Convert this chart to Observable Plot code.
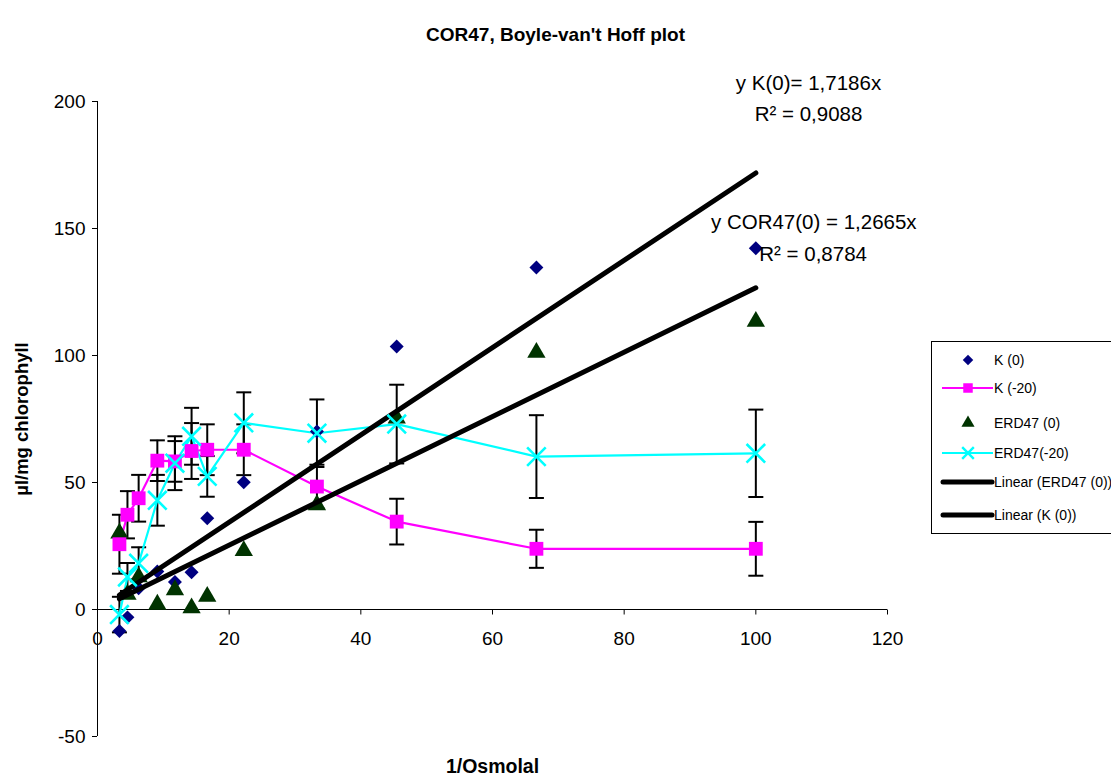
<!DOCTYPE html>
<html>
<head>
<meta charset="utf-8">
<script src="https://cdn.jsdelivr.net/npm/d3@7"></script>
<script src="https://cdn.jsdelivr.net/npm/@observablehq/plot@0.6"></script>
<style>
  html, body { margin: 0; padding: 0; background: #fff; }
  #wrap { position: relative; width: 1111px; height: 781px; overflow: hidden; font-family: "Liberation Sans", Arial, sans-serif; }
  #chart { position: absolute; left: 0; top: 0; }
  #legend { position: absolute; left: 931px; top: 341px; width: 200px; height: 191px; border: 1px solid #000; background: #fff; }
</style>
</head>
<body>
<div id="wrap">
  <div id="chart"></div>
  <div id="legend"></div>
</div>
<script>
// ---- data ----
const titleText = "COR47, Boyle-van't Hoff plot";
const xLabel = "1/Osmolal";
const yLabel = "µl/mg chlorophyll";
const xTicks = [0, 20, 40, 60, 80, 100, 120];
const yTicks = [-50, 0, 50, 100, 150, 200];

const invOsm   = [3.33, 4.55, 6.25, 9.09, 11.76, 14.29, 16.67, 22.22, 33.33, 45.45, 66.67, 100];
const k0       = [-8.5, -3.1, 8.4, 15.0, 10.8, 14.7, 35.9, 50.1, 70.1, 103.5, 134.6, 142.2];
const k20      = [25.7, 37.3, 43.8, 58.6, 58.3, 62.4, 62.9, 62.9, 48.4, 34.6, 23.9, 23.9];
const k20Err   = [11.6, 9.3, 9.2, 8.0, 8.0, 11.0, 10.0, 10.0, 8.6, 9.0, 7.5, 10.6];
const erd0     = [30.0, 5.9, 12.8, 2.0, 7.7, 0.6, 5.1, 23.1, 41.2, 75.3, 101.2, 113.4];
const erd20    = [-2.0, 12.8, 18.2, 43.0, 57.6, 68.2, 52.4, 73.5, 69.4, 73.0, 60.2, 61.5];
const erd20Err = [7.0, 5.5, 6.3, 10.0, 10.6, 11.2, 8.0, 12.0, 13.3, 15.5, 16.3, 17.2];

const seriesNames = ["K (0)", "K (-20)", "ERD47 (0)", "ERD47(-20)", "Linear (ERD47 (0))", "Linear (K (0))"];
const trendSlopes = [1.7186, 1.2665]; // K(0), COR47(0)
const trendLabels = ["y K(0)= 1,7186x", "R² = 0,9088", "y COR47(0) = 1,2665x", "R² = 0,8784"];

// ---- build table ----
const rows = invOsm.map((x, i) => ({
  x, k0: k0[i], k20: k20[i], k20e: k20Err[i], e0: erd0[i], e20: erd20[i], e20e: erd20Err[i]
}));
const xMin = d3.min(invOsm), xMax = d3.max(invOsm);
const trendRows = trendSlopes.flatMap((s, j) => [xMin, xMax].map(x => ({x, y: s * x, j})));

const capSym = {draw(ctx) { ctx.moveTo(-7.5, 0); ctx.lineTo(7.5, 0); }};
const tickSym = {draw(ctx) { ctx.moveTo(0, 0); ctx.lineTo(0, 5); }};

const font = "'Liberation Sans', Arial, sans-serif";

const chart = Plot.plot({
  width: 1111,
  height: 781,
  marginLeft: 97,
  marginRight: 224,
  marginTop: 101,
  marginBottom: 45,
  x: {domain: [0, 120], axis: null},
  y: {domain: [-50, 200], axis: null},
  style: {fontFamily: font, fontSize: "19px", color: "#000", background: "#fff", overflow: "visible"},
  marks: [
    // axes
    Plot.axisY(yTicks, {tickSize: 5, tickPadding: 7, label: null, fontSize: 19, tickFormat: d => String(d), stroke: "#000", strokeWidth: 1}),
    Plot.ruleX([0], {stroke: "#000", strokeWidth: 1}),
    Plot.ruleY([0], {stroke: "#000", strokeWidth: 1}),
    Plot.dot(xTicks, {x: d => d, y: 0, symbol: tickSym, stroke: "#000", fill: "none", strokeWidth: 1}),
    Plot.text(xTicks, {x: d => d, y: 0, dy: 29, text: d => String(d), fontSize: 19, fill: "#000"}),
    // error bars
    Plot.ruleX(rows, {x: "x", y1: d => d.k20 - d.k20e, y2: d => d.k20 + d.k20e, stroke: "#000", strokeWidth: 2}),
    Plot.dot(rows, {x: "x", y: d => d.k20 - d.k20e, symbol: capSym, stroke: "#000", fill: "none", strokeWidth: 2}),
    Plot.dot(rows, {x: "x", y: d => d.k20 + d.k20e, symbol: capSym, stroke: "#000", fill: "none", strokeWidth: 2}),
    Plot.ruleX(rows, {x: "x", y1: d => d.e20 - d.e20e, y2: d => d.e20 + d.e20e, stroke: "#000", strokeWidth: 2}),
    Plot.dot(rows, {x: "x", y: d => d.e20 - d.e20e, symbol: capSym, stroke: "#000", fill: "none", strokeWidth: 2}),
    Plot.dot(rows, {x: "x", y: d => d.e20 + d.e20e, symbol: capSym, stroke: "#000", fill: "none", strokeWidth: 2}),
    // series lines
    Plot.line(rows, {x: "x", y: "k20", stroke: "#FF00FF", strokeWidth: 2.2}),
    Plot.line(rows, {x: "x", y: "e20", stroke: "#00FFFF", strokeWidth: 2.2}),
    // K(0) and ERD47(0) markers
    Plot.dot(rows, {x: "x", y: "k0", symbol: "diamond2", r: 6.3, fill: "#000080", stroke: "none"}),
    Plot.dot(rows, {x: "x", y: "e0", symbol: "triangle", r: 6.8, fill: "#003300", stroke: "none"}),
    // trend lines
    Plot.line(trendRows, {x: "x", y: "y", z: "j", stroke: "#000", strokeWidth: 5}),
    // K(-20) and ERD47(-20) markers
    Plot.dot(rows, {x: "x", y: "k20", symbol: "square", r: 7.8, fill: "#FF00FF", stroke: "none"}),
    Plot.dot(rows, {x: "x", y: "e20", symbol: "times", r: 8.5, stroke: "#00FFFF", fill: "none", strokeWidth: 2.6}),
    // trend equations
    Plot.text([trendLabels[0]], {x: 108.0, y: 207, text: d => d, fontSize: 20.5, fill: "#000"}),
    Plot.text([trendLabels[1]], {x: 108.0, y: 194.9, text: d => d, fontSize: 20.5, fill: "#000"}),
    Plot.text([trendLabels[2]], {x: 108.8, y: 152.4, text: d => d, fontSize: 20.5, fill: "#000"}),
    Plot.text([trendLabels[3]], {x: 108.7, y: 139.8, text: d => d, fontSize: 20.5, fill: "#000"}),
    // titles
    Plot.text([titleText], {frameAnchor: "top", dx: 63, dy: -74, text: d => d, fontSize: 19, fontWeight: "bold", fill: "#000"}),
    Plot.text([xLabel], {frameAnchor: "bottom", dy: 36, text: d => d, fontSize: 19.5, fontWeight: "bold", fill: "#000"}),
    Plot.text([yLabel], {frameAnchor: "left", textAnchor: "middle", dx: -75, rotate: -90, text: d => d, fontSize: 18.5, fontWeight: "bold", fill: "#000"})
  ]
});
document.getElementById("chart").appendChild(chart);

// ---- legend ----
const legendY = [18, 46, 81, 111, 140, 173];
const lsvg = d3.select("#legend").append("svg").attr("width", 200).attr("height", 191)
  .style("font-family", font).style("font-size", "14px");
seriesNames.forEach((name, i) => {
  const g = lsvg.append("g").attr("transform", `translate(0,${legendY[i]})`);
  if (i === 1 || i === 3) {
    g.append("line").attr("x1", 10).attr("x2", 61).attr("stroke", i === 1 ? "#FF00FF" : "#00FFFF").attr("stroke-width", 2);
  }
  if (i >= 4) {
    g.append("line").attr("x1", 11).attr("x2", 60).attr("stroke", "#000").attr("stroke-width", 5).attr("stroke-linecap", "round");
  }
  const sym = [d3.symbolDiamond2, d3.symbolSquare, d3.symbolTriangle, d3.symbolTimes][i];
  if (sym) {
    const size = [70, 90, 75, 90][i];
    const p = g.append("path").attr("transform", "translate(36,0)").attr("d", d3.symbol(sym, size)());
    if (i === 3) p.attr("fill", "none").attr("stroke", "#00FFFF").attr("stroke-width", 2.4);
    else p.attr("fill", ["#000080", "#FF00FF", "#003300"][i]);
  }
  g.append("text").attr("x", 62).attr("dy", "0.35em").attr("fill", "#000").text(name);
});
</script>
</body>
</html>
